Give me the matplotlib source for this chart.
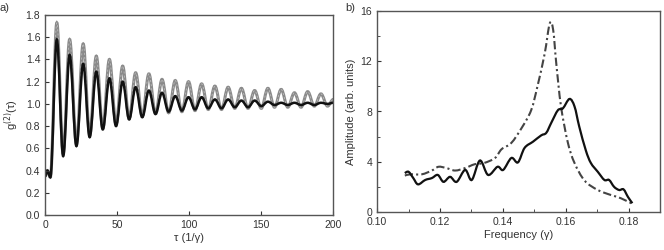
import matplotlib.pyplot as plt
import numpy as np
from matplotlib.path import Path
from matplotlib.patches import PathPatch
from matplotlib.ticker import MultipleLocator

plt.rcParams['font.family'] = ['Liberation Sans', 'DejaVu Sans']

# ---------------- panel a) : g2(tau), extrema ----------------
# black curve: start wiggle, then alternating peaks / troughs
black_start = [(0.0, 0.35), (1.5, 0.40), (3.6, 0.34)]
peak_tau = [8.1, 17.0, 26.4, 35.5, 44.6, 53.8, 62.8, 72.0, 81.1, 90.3, 99.5,
            108.6, 117.8, 127.0, 136.2, 145.4, 154.6, 163.8, 173.0, 182.2, 191.4]
trough_tau = [12.5, 21.7, 30.9, 40.0, 49.2, 58.3, 67.4, 76.6, 85.7, 94.9, 104.0,
              113.2, 122.4, 131.6, 140.8, 150.0, 159.2, 168.4, 177.6, 186.8, 196.0]
black_peaks = [1.58, 1.44, 1.36, 1.29, 1.23, 1.20, 1.15, 1.12, 1.10, 1.07, 1.06,
               1.06, 1.04, 1.04, 1.03, 1.03, 1.02, 1.01, 1.01, 1.01, 1.01]
black_troughs = [0.53, 0.62, 0.70, 0.77, 0.80, 0.86, 0.88, 0.91, 0.93, 0.94, 0.95,
                 0.96, 0.96, 0.97, 0.97, 0.98, 0.99, 0.99, 0.99, 0.99, 1.00]
black_end = (200.0, 1.01)

gray_peaks = [1.73, 1.58, 1.54, 1.43, 1.40, 1.34, 1.28, 1.27, 1.22, 1.21, 1.20,
              1.18, 1.16, 1.15, 1.14, 1.12, 1.14, 1.13, 1.10, 1.11, 1.09]
gray_troughs = [0.55, 0.64, 0.72, 0.78, 0.82, 0.87, 0.89, 0.91, 0.92, 0.93, 0.94,
                0.95, 0.95, 0.96, 0.96, 0.96, 0.97, 0.97, 0.97, 0.98, 0.98]
gray_end = (200.0, 1.04)

# ---------------- panel b) : spectra ----------------
freq_dd = [0.1088, 0.1106, 0.1142, 0.1174, 0.1195, 0.1220, 0.1248, 0.1280, 0.1310,
           0.1340, 0.1375, 0.1396, 0.1427, 0.1460, 0.1490, 0.1510, 0.1533, 0.1549,
           0.1560, 0.1570, 0.1585, 0.1607, 0.1628, 0.1660, 0.1702, 0.1744, 0.1775, 0.1812]
amp_dd = [2.9, 3.0, 3.0, 3.3, 3.6, 3.5, 3.3, 3.5, 3.8, 3.9, 4.3, 5.0, 5.5, 6.7, 8.1,
          10.0, 12.6, 15.0, 14.5, 11.8, 8.4, 5.5, 3.9, 2.5, 1.75, 1.35, 1.1, 0.65]

freq_s = [0.1088, 0.1100, 0.1115, 0.1130, 0.1153, 0.1174, 0.1193, 0.1211, 0.1232,
          0.1253, 0.1280, 0.1301, 0.1327, 0.1353, 0.1383, 0.1401, 0.1427, 0.1448,
          0.1469, 0.1496, 0.1522, 0.1538, 0.1554, 0.1575, 0.1591, 0.1612, 0.1628,
          0.1643, 0.1664, 0.1680, 0.1702, 0.1723, 0.1738, 0.1754, 0.1770, 0.1784,
          0.1798, 0.1812]
amp_s = [3.1, 3.2, 2.7, 2.2, 2.55, 2.7, 2.95, 2.4, 2.8, 2.4, 3.35, 2.55, 4.1, 2.95,
         3.6, 3.35, 4.3, 3.95, 5.1, 5.6, 6.1, 6.3, 7.1, 8.1, 8.25, 9.0, 8.4, 6.8,
         4.9, 3.9, 3.2, 2.55, 2.55, 2.0, 1.75, 1.8, 1.2, 0.7]


def extrema_path(start, peaks_t, peaks_y, troughs_t, troughs_y, end):
    # smooth path through extrema: cubic Bezier with flat tangents at each extremum
    pts = list(start)
    for tp, yp, tt, yt in zip(peaks_t, peaks_y, troughs_t, troughs_y):
        pts.append((tp, yp))
        pts.append((tt, yt))
    pts.append(end)
    verts = [pts[0]]
    codes = [Path.MOVETO]
    for (x0, y0), (x1, y1) in zip(pts[:-1], pts[1:]):
        dx = x1 - x0
        verts += [(x0 + 0.36 * dx, y0), (x1 - 0.36 * dx, y1), (x1, y1)]
        codes += [Path.CURVE4] * 3
    return Path(verts, codes)


def smooth_path(xs, ys):
    # Catmull-Rom through the read points, drawn as Bezier segments
    p = np.column_stack([xs, ys])
    ext = np.vstack([p[0], p, p[-1]])
    verts = [tuple(p[0])]
    codes = [Path.MOVETO]
    for i in range(1, len(ext) - 2):
        p0, p1, p2, p3 = ext[i - 1], ext[i], ext[i + 1], ext[i + 2]
        verts += [tuple(p1 + (p2 - p0) / 6), tuple(p2 - (p3 - p1) / 6), tuple(p2)]
        codes += [Path.CURVE4] * 3
    return Path(verts, codes)


tick_col = '#333333'
spine_col = '#555555'
fs = 7.5

fig = plt.figure(figsize=(6.64, 2.5), dpi=100)
ax1 = fig.add_axes([0.068, 0.14, 0.434, 0.80])
ax2 = fig.add_axes([0.568, 0.152, 0.426, 0.804])

gpath = extrema_path(black_start, peak_tau, gray_peaks, trough_tau, gray_troughs, gray_end)
bpath = extrema_path(black_start, peak_tau, black_peaks, trough_tau, black_troughs, black_end)
ax1.add_patch(PathPatch(gpath, fc='none', ec='#8a8a8a', lw=2.2, capstyle='round'))
ax1.add_patch(PathPatch(gpath, fc='none', ec='#c4c4c4', lw=0.5, ls=(0, (3, 3))))
ax1.add_patch(PathPatch(bpath, fc='none', ec='#111111', lw=1.8))

ax1.set_xlim(0, 200)
ax1.set_ylim(0, 1.8)
ax1.xaxis.set_major_locator(MultipleLocator(50))
ax1.yaxis.set_major_locator(MultipleLocator(0.2))
ax1.yaxis.set_major_formatter(plt.FormatStrFormatter('%.1f'))
ax1.set_xlabel('τ (1/γ)', fontsize=8, color=tick_col, labelpad=2)
ax1.set_ylabel('g$^{(2)}$(τ)', fontsize=8, color=tick_col, labelpad=3)

ax2.add_patch(PathPatch(smooth_path(freq_dd, amp_dd), fc='none', ec='#444444',
                        lw=1.5, ls=(0, (4, 1.5, 1, 1.5))))
ax2.add_patch(PathPatch(smooth_path(freq_s, amp_s), fc='none', ec='#111111', lw=1.6))
ax2.set_xlim(0.10, 0.19)
ax2.set_ylim(0, 16)
ax2.xaxis.set_major_locator(MultipleLocator(0.02))
ax2.xaxis.set_minor_locator(MultipleLocator(0.01))
ax2.yaxis.set_major_locator(MultipleLocator(4))
ax2.yaxis.set_minor_locator(MultipleLocator(2))
ax2.xaxis.set_major_formatter(plt.FormatStrFormatter('%.2f'))
ax2.set_xlabel('Frequency (γ)', fontsize=8, color=tick_col, labelpad=2)
ax2.set_ylabel('Amplitude (arb. units)', fontsize=8, color=tick_col, labelpad=3)

for ax in (ax1, ax2):
    for s in ax.spines.values():
        s.set_color(spine_col)
        s.set_linewidth(1.0)
    ax.tick_params(which='both', direction='in', labelsize=fs, colors=tick_col,
                   top=False, right=False)
    ax.tick_params(which='major', length=3)
    ax.tick_params(which='minor', length=2)

fig.text(0.0, 0.955, 'a)', fontsize=8, color=tick_col)
fig.text(0.52, 0.955, 'b)', fontsize=8, color=tick_col)

fig.savefig('out.png', dpi=100)
